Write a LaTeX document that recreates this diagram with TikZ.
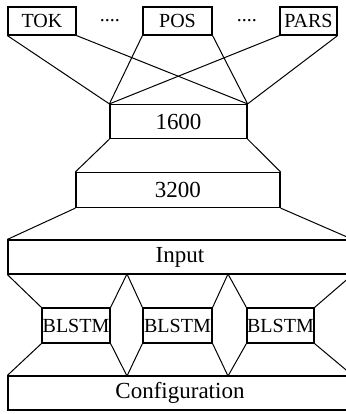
\documentclass[tikz,border=0pt]{standalone}
\usepackage{fontspec}
\setmainfont{Liberation Serif}
\usepackage{tikz}
\tikzset{
    layer/.style={
        draw, rectangle, inner sep=0pt, line width=0.6pt,
        minimum width=#1, minimum height=17pt,
        font=\fontsize{11.5}{13}\selectfont
    },
    layer/.default=40pt,
    feat/.style={
        layer=#1, minimum height=14pt,
        font=\fontsize{10}{12}\selectfont
    },
    feat/.default=34pt,
    link/.style={line width=0.5pt}
}
\newcommand{\blstm}[3] {
	\node[layer=#3, minimum height=17.5pt, font=\fontsize{10}{12}\selectfont] (#1) at (#2,325.5) {BLSTM};
}

\begin{document}
\begin{tikzpicture}[x=0.5pt,y=-0.5pt]
		\useasboundingbox (0,0) rectangle (345,414);

		% features
		\node[feat=34pt] (tok) at (42,21) {TOK};
		\node[font=\fontsize{10}{12}\selectfont] (dotsA) at (110,21) {....};
		\node[feat=34.5pt] (pos) at (177.5,21) {POS};
		\node[font=\fontsize{10}{12}\selectfont] (dotsB) at (247,21) {....};
		\node[feat=28.5pt] (pars) at (308.5,21) {PARS};

		% hidden layers
		\node[layer=68.5pt] (h1600) at (178.5,121.5) {1600};
		\node[layer=102pt, minimum height=17.5pt] (h3200) at (178,190) {3200};

		% input and configuration
		\node[layer=172pt] (input) at (180,257) {Input};
		\node[layer=172pt] (config) at (180,393) {Configuration};

		% BLSTM stack
		\blstm{b1}{76}{34pt}
		\blstm{b2}{177.5}{34.5pt}
		\blstm{b3}{280.5}{33.5pt}

		\coordinate (topA) at (127,274);
		\coordinate (topB) at (228,274);
		\coordinate (botA) at (127,376);
		\coordinate (botB) at (228,376);

		% features -> 1600
		\foreach \f in {tok,pos,pars} {
			\draw[link] (\f.south west) -- (h1600.north west);
			\draw[link] (\f.south east) -- (h1600.north east);
		}

		% 1600 -> 3200 -> input
		\draw[link] (h1600.south west) -- (h3200.north west);
		\draw[link] (h1600.south east) -- (h3200.north east);
		\draw[link] (h3200.south west) -- (input.north west);
		\draw[link] (h3200.south east) -- (input.north east);

		% input -> BLSTM
		\draw[link] (input.south west) -- (b1.north west);
		\draw[link] (b1.north east) -- (topA) -- (b2.north west);
		\draw[link] (b2.north east) -- (topB) -- (b3.north west);
		\draw[link] (b3.north east) -- (input.south east);

		% BLSTM -> configuration
		\draw[link] (b1.south west) -- (config.north west);
		\draw[link] (b1.south east) -- (botA) -- (b2.south west);
		\draw[link] (b2.south east) -- (botB) -- (b3.south west);
		\draw[link] (b3.south east) -- (config.north east);

	\end{tikzpicture}
\end{document}
